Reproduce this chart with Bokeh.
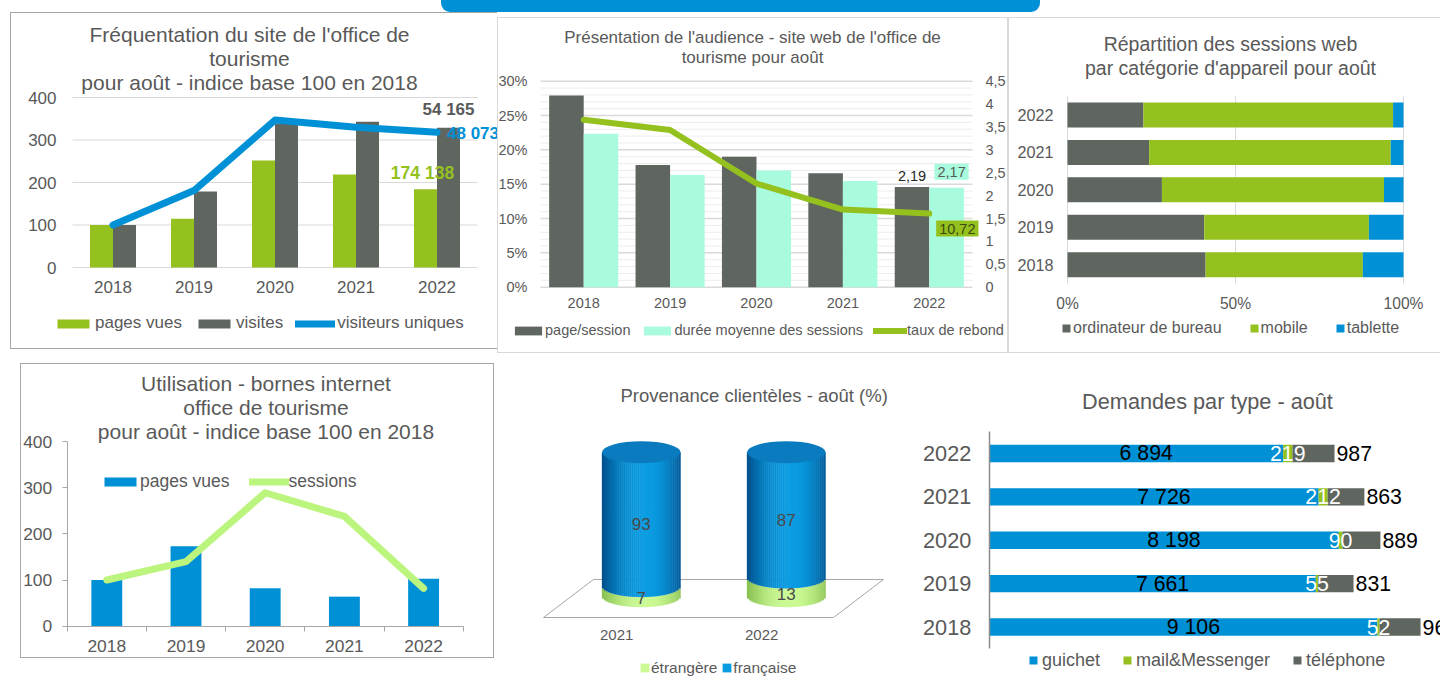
import math
from bokeh.plotting import figure
from bokeh.models import (Range1d, FixedTicker, LinearAxis, Label, Legend, LegendItem,
                          CustomJSTickFormatter, PrintfTickFormatter, ColumnDataSource, Div)
from bokeh.layouts import row, column
from bokeh.embed import file_html
from bokeh.resources import INLINE
from bokeh.core.properties import value

# ---------------- data ----------------
years = ["2018", "2019", "2020", "2021", "2022"]

# Fréquentation du site (indice base 100 en 2018)
site_pages_vues = [100, 115, 252, 219, 184]
site_visites = [100, 179, 339, 343, 329]
site_visiteurs_uniques = [100, 181, 347, 330, 318]
site_2022_pages_vues = 174138
site_2022_visites = 54165
site_2022_visiteurs_uniques = 48073

# Présentation de l'audience
aud_page_session = [4.19, 2.67, 2.85, 2.49, 2.19]
aud_duree_moyenne = [3.35, 2.45, 2.55, 2.32, 2.17]
aud_taux_rebond = [24.4, 22.9, 15.1, 11.3, 10.72]

# Répartition des sessions par appareil (%)
app_ordinateur = [41.1, 40.7, 28.1, 24.3, 22.6]
app_mobile = [46.8, 49.0, 66.1, 71.9, 74.3]
app_tablette = [12.1, 10.3, 5.8, 3.8, 3.1]

# Bornes internet (indice base 100 en 2018)
bornes_pages_vues = [100, 173, 82, 64, 103]
bornes_sessions = [100, 140, 289, 238, 82]

# Provenance clientèles (%)
prov_years = ["2021", "2022"]
prov_etrangere = [7, 13]
prov_francaise = [93, 87]

# Demandes par type
dem_guichet = [9106, 7661, 8198, 7726, 6894]
dem_mail = [52, 55, 90, 212, 219]
dem_telephone = [961, 831, 889, 863, 987]

# ---------------- style ----------------
FONT = "Liberation Sans"
TXT = "#595959"
GREEN = "#95C11F"
DGREY = "#5F6660"
BLUE = "#0090D5"
MINT = "#A8FCDD"
LGREEN = "#BCF57E"
GRID = "#D9D9D9"

POS = [i + 0.5 for i in range(5)]
YEAR_LABELS = dict(zip(POS, years))


def fmt_int(v):
    return f"{v:,}".replace(",", " ")


def fmt_dec(v):
    return f"{v:.2f}".replace(".", ",")


class Frame:
    """Maps a data area (l, r, t, b in canvas pixels) onto a frame covering the whole canvas."""

    def __init__(self, w, h, l, r, t, b, xr, yr):
        self.w, self.h = w, h
        self.xr, self.yr = xr, yr
        self.sx = (xr[1] - xr[0]) / (r - l)
        self.sy = (yr[1] - yr[0]) / (b - t)
        self.x0 = xr[0] - l * self.sx
        self.y0 = yr[0] - (h - b) * self.sy
        self.t, self.b = t, b

    def xrange(self):
        return Range1d(self.x0, self.x0 + self.w * self.sx)

    def yrange(self):
        return Range1d(self.y0, self.y0 + self.h * self.sy)

    def extra_yrange(self, lo, hi):
        s = (hi - lo) / (self.b - self.t)
        y0 = lo - (self.h - self.b) * s
        return Range1d(y0, y0 + self.h * s)

    def d(self, cx, cy):
        return self.x0 + cx * self.sx, self.y0 + (self.h - cy) * self.sy


def fig(fr, shadow=None, margin=None):
    p = figure(width=fr.w, height=fr.h, x_range=fr.xrange(), y_range=fr.yrange(),
               toolbar_location=None, output_backend="svg",
               min_border_left=0, min_border_right=0, min_border_top=0, min_border_bottom=0,
               frame_align=False, x_axis_location=None, y_axis_location=None,
               border_fill_alpha=0, background_fill_alpha=0, outline_line_color=None,
               styles={"box-shadow": shadow} if shadow else {}, margin=margin)
    p.grid.visible = False
    return p


def axis(p, side, fixed, ticks, size, standoff, labels=None, fmt=None, line=None,
         ticks_out=0, bounds=None, minor=None, line_width=1, y_range_name=None):
    kw = {}
    if y_range_name:
        kw["y_range_name"] = y_range_name
    ax = LinearAxis(fixed_location=fixed,
                    ticker=FixedTicker(ticks=ticks, minor_ticks=minor or []), **kw)
    if fmt is not None:
        ax.formatter = fmt
    if labels:
        ax.major_label_overrides = labels
    if bounds:
        ax.bounds = bounds
    ax.major_label_text_font = FONT
    ax.major_label_text_font_size = f"{size}px"
    ax.major_label_text_color = TXT
    ax.major_label_standoff = standoff
    ax.axis_line_color = line
    ax.axis_line_width = line_width
    ax.major_tick_out = ticks_out
    ax.major_tick_in = 0
    ax.major_tick_line_color = line if ticks_out else None
    if minor:
        ax.minor_tick_line_color = line
        ax.minor_tick_out = 5
        ax.minor_tick_in = 0
    else:
        ax.minor_tick_line_color = None
    p.add_layout(ax, side)
    return ax


def hgrid(p, ys, x0, x1, color, width=1):
    p.segment(x0=[x0] * len(ys), x1=[x1] * len(ys), y0=ys, y1=ys,
              line_color=color, line_width=width, level="underlay")


def vgrid(p, xs, y0, y1, color, width=1):
    p.segment(x0=xs, x1=xs, y0=[y0] * len(xs), y1=[y1] * len(xs),
              line_color=color, line_width=width, level="underlay")


def titles(p, fr, lines, cx, cys, size):
    for t, cy in zip(lines, cys):
        x, y = fr.d(cx, cy)
        p.add_layout(Label(x=x, y=y, text=t, text_align="center", text_baseline="middle",
                           text_font=FONT, text_font_size=f"{size}px", text_color=TXT))


def legend(p, fr, items, left, cy, size, gw, gh, standoff, spacing):
    h = max(18, 1.2 * size + 1)
    vy = fr.h - (cy + h / 2)
    p.add_layout(Legend(items=items, location=(left, vy), orientation="horizontal",
                        label_text_font=FONT, label_text_font_size=f"{size}px",
                        label_text_color=TXT, glyph_width=gw, glyph_height=gh,
                        label_standoff=standoff, spacing=spacing, padding=0, margin=0,
                        border_line_alpha=0, background_fill_alpha=0, label_height=18))


# ---------------- chart 1 ----------------
fr1 = Frame(487, 337, 62, 467, 85, 255, (0, 5), (0, 400))
f1 = fig(fr1, shadow="inset 1px 1px 0 0 #A6A6A6, inset 0 -1px 0 0 #A6A6A6",
         margin=(0, 0, 0, 10))
hgrid(f1, [0, 100, 200, 300, 400], 0, 5, GRID)
axis(f1, "left", 0, [0, 100, 200, 300, 400], 17, 16)
axis(f1, "below", 0, POS, 17, 13, labels=YEAR_LABELS)
bw1 = 0.284
r11 = f1.vbar(x=[x - bw1 / 2 for x in POS], top=site_pages_vues, width=bw1,
              fill_color=GREEN, line_color=None)
r12 = f1.vbar(x=[x + bw1 / 2 for x in POS], top=site_visites, width=bw1,
              fill_color=DGREY, line_color=None)
r13 = f1.line(POS, site_visiteurs_uniques, line_color=BLUE, line_width=7,
              line_cap="round", line_join="round")
f1.add_layout(Label(x=POS[4] + bw1 / 2, y=site_visites[4], y_offset=18,
                    text=fmt_int(site_2022_visites), text_align="center",
                    text_baseline="middle", text_font=FONT, text_font_size="17px",
                    text_font_style="bold", text_color=TXT))
f1.add_layout(Label(x=POS[4], y=site_visiteurs_uniques[4], x_offset=10, y_offset=-1,
                    text=fmt_int(site_2022_visiteurs_uniques), text_align="left",
                    text_baseline="middle", text_font=FONT, text_font_size="17px",
                    text_font_style="bold", text_color=BLUE))
f1.add_layout(Label(x=POS[4] - bw1 / 2, y=site_pages_vues[4], x_offset=-3, y_offset=16,
                    text=fmt_int(site_2022_pages_vues), text_align="center",
                    text_baseline="middle", text_font=FONT, text_font_size="17.5px",
                    text_font_style="bold", text_color=GREEN))
titles(f1, fr1, ["Fréquentation du site de l'office de", "tourisme",
                 "pour août - indice base 100 en 2018"], 239, [22, 46, 70], 21)
legend(f1, fr1, [LegendItem(label="pages vues", renderers=[r11]),
                 LegendItem(label="visites", renderers=[r12]),
                 LegendItem(label="visiteurs uniques", renderers=[r13])],
       43, 310.7, 17, 40, 11, 2, 12)

# ---------------- chart 2 ----------------
fr2 = Frame(511, 336, 43, 475, 63.7, 269.7, (0, 5), (0, 30))
f2 = fig(fr2, shadow="inset 0 0 0 1px #D9D9D9", margin=(5, 0, 0, 0))
f2.extra_y_ranges = {"r": fr2.extra_yrange(0, 4.5)}
hgrid(f2, [v for v in range(0, 31) if v % 5], 0, 5, "#EDEDED", 1)
hgrid(f2, list(range(0, 31, 5)), 0, 5, GRID, 1.5)
axis(f2, "left", 0, list(range(0, 31, 5)), 14.5, 13, fmt=PrintfTickFormatter(format="%d%%"))
axis(f2, "below", 0, POS, 14.5, 11, labels=YEAR_LABELS)
axis(f2, "right", 5, [i * 0.5 for i in range(10)], 14.5, 13, y_range_name="r",
     fmt=CustomJSTickFormatter(code="return tick.toString().replace('.', ',');"))
r21 = f2.vbar(x=[x - 0.2 for x in POS], top=aud_page_session, width=0.4,
              fill_color=DGREY, line_color=None, y_range_name="r")
r22 = f2.vbar(x=[x + 0.2 for x in POS], top=aud_duree_moyenne, width=0.4,
              fill_color=MINT, line_color=None, y_range_name="r")
r23 = f2.line(POS, aud_taux_rebond, line_color=GREEN, line_width=6,
              line_cap="round", line_join="round")
f2.add_layout(Label(x=POS[4] - 0.2, y=aud_page_session[4], y_range_name="r", y_offset=11,
                    text=fmt_dec(aud_page_session[4]), text_align="center",
                    text_baseline="middle", text_font=FONT, text_font_size="14.5px",
                    text_color="#262626"))
f2.add_layout(Label(x=POS[4] + 0.2, y=aud_duree_moyenne[4], y_range_name="r", x_offset=5,
                    y_offset=16, text=fmt_dec(aud_duree_moyenne[4]), text_align="center",
                    text_baseline="middle", text_font=FONT, text_font_size="14.5px",
                    text_color=TXT, background_fill_color=MINT, padding=3))
f2.add_layout(Label(x=POS[4], y=aud_taux_rebond[4], x_offset=28, y_offset=-15,
                    text=fmt_dec(aud_taux_rebond[4]), text_align="center",
                    text_baseline="middle", text_font=FONT, text_font_size="14.5px",
                    text_color="#3A4A10", background_fill_color=GREEN, padding=3))
titles(f2, fr2, ["Présentation de l'audience - site web de l'office de",
                 "tourisme pour août"], 255, [19.7, 40.3], 17)
legend(f2, fr2, [LegendItem(label="page/session", renderers=[r21]),
                 LegendItem(label="durée moyenne des sessions", renderers=[r22]),
                 LegendItem(label="taux de rebond", renderers=[r23])],
       14, 313, 14.5, 34, 11, 0, 10)

# ---------------- chart 3 ----------------
fr3 = Frame(432, 336, 59, 395, 78.7, 266, (0, 100), (0, 5))
f3 = fig(fr3, shadow="inset 1px 1px 0 0 #D9D9D9, inset 0 -1px 0 0 #D9D9D9",
         margin=(5, 0, 0, 0))
vgrid(f3, [0, 50, 100], 0, 5, GRID)
src3 = ColumnDataSource(dict(y=POS, ordinateur=app_ordinateur, mobile=app_mobile,
                             tablette=app_tablette))
rs3 = f3.hbar_stack(["ordinateur", "mobile", "tablette"], y="y", height=0.667,
                    fill_color=[DGREY, GREEN, BLUE], line_color=None, source=src3)
axis(f3, "below", 0, [0, 50, 100], 15.6, 11, fmt=PrintfTickFormatter(format="%d%%"))
axis(f3, "left", 0, POS, 16.2, 14, labels=YEAR_LABELS)
titles(f3, fr3, ["Répartition des sessions web", "par catégorie d'appareil pour août"],
       222, [26, 50], 19.5)
legend(f3, fr3, [LegendItem(label="ordinateur de bureau", renderers=[rs3[0]]),
                 LegendItem(label="mobile", renderers=[rs3[1]]),
                 LegendItem(label="tablette", renderers=[rs3[2]])],
       53, 310, 16, 10, 10, 2, 27)

# ---------------- chart 4 ----------------
fr4 = Frame(474, 295, 46.7, 442.7, 78, 262.7, (0, 5), (0, 400))
f4 = fig(fr4, shadow="inset 0 0 0 1px #A6A6A6", margin=(10, 0, 0, 20))
r41 = f4.vbar(POS, top=bornes_pages_vues, width=0.39, fill_color=BLUE, line_color=None)
r42 = f4.line(POS, bornes_sessions, line_color=LGREEN, line_width=7,
              line_cap="round", line_join="round")
axis(f4, "left", 0, [0, 100, 200, 300, 400], 17.4, 10, line="#A6A6A6", ticks_out=5,
     bounds=(0, 400))
axis(f4, "below", 0, POS, 17.4, 9, labels=YEAR_LABELS, line="#A6A6A6", bounds=(0, 5),
     minor=[0, 1, 2, 3, 4, 5])
titles(f4, fr4, ["Utilisation - bornes internet", "office de tourisme",
                 "pour août - indice base 100 en 2018"], 245.5, [19.7, 43.7, 67.7], 21)
legend(f4, fr4, [LegendItem(label="pages vues", renderers=[r41]),
                 LegendItem(label="sessions", renderers=[r42])],
       80, 118, 17.5, 40, 11, 0, 19)

# ---------------- chart 5 (cylinders) ----------------
fr5 = Frame(400, 308, 140.8, 285.8, 81.7, 225.7, (1, 2), (0, 100))
f5 = fig(fr5, margin=(17, 0, 0, 6))
PX_X, PX_Y = 145.0, 1.44
CW = 78.5 / PX_X
D = 11 / PX_Y
N = 40
CYL_X = [1, 2]
FLOOR_X = [0.326, 2.326, 2.670, 0.670]
FLOOR_Y = [-14.8, -14.8, 11.6, 11.6]


def mix(c1, c2, t):
    a = [int(c1[i:i + 2], 16) for i in (1, 3, 5)]
    b = [int(c2[i:i + 2], 16) for i in (1, 3, 5)]
    return "#%02x%02x%02x" % tuple(int(round(a[k] + (b[k] - a[k]) * t)) for k in range(3))


def shade_t(u):
    if u < 0.15:
        s = (0.15 - u) / 1.15
        return 1 - s * s
    s = (u - 0.15) / 0.85
    return 1 - 0.85 * s * s


f5.patch(FLOOR_X, FLOOR_Y, fill_color="white", line_color="#A6A6A6", line_width=1)
gs = dict(x=[], bottom=[], top=[], color=[])
bs = dict(x=[], bottom=[], top=[], color=[])
best_k, best_t = 0, -1
for xc, et, fr_ in zip(CYL_X, prov_etrangere, prov_francaise):
    for k in range(N):
        u = -1 + (2 * k + 1) / N
        dd = D * math.sqrt(max(0.0, 1 - u * u))
        xs = xc + u * CW / 2
        t = shade_t(u)
        if xc == CYL_X[0] and t > best_t:
            best_k, best_t = k, t
        gs["x"].append(xs); gs["bottom"].append(-dd); gs["top"].append(et - dd)
        gs["color"].append(mix("#86BE4E", "#CBFA94", t))
        bs["x"].append(xs); bs["bottom"].append(et - dd); bs["top"].append(et + fr_)
        bs["color"].append(mix("#004E8A", "#0A9CE2", t))
rg = f5.vbar(x="x", bottom="bottom", top="top", width=CW / N * 1.2, fill_color="color",
             line_color=None, source=ColumnDataSource(gs))
rb = f5.vbar(x="x", bottom="bottom", top="top", width=CW / N * 1.2, fill_color="color",
             line_color=None, source=ColumnDataSource(bs))
f5.ellipse(x=CYL_X, y=[e + f for e, f in zip(prov_etrangere, prov_francaise)], width=CW,
           height=2 * D, fill_color="#0B7BC0", line_color=None)
f5.text(x=CYL_X, y=[e / 2 for e in prov_etrangere], text=[str(e) for e in prov_etrangere],
        y_offset=7, text_align="center", text_baseline="middle", text_font=value(FONT),
        text_font_size="17px", text_color="#4A4A4A")
f5.text(x=CYL_X, y=[e + f / 2 for e, f in zip(prov_etrangere, prov_francaise)],
        text=[str(f) for f in prov_francaise], y_offset=5, text_align="center",
        text_baseline="middle", text_font=value(FONT), text_font_size="17px",
        text_color="#4A4A4A")
f5.text(x=[x - 0.17 for x in CYL_X], y=[-26.6, -26.6], text=prov_years,
        text_align="center", text_baseline="middle", text_font=value(FONT),
        text_font_size="15px", text_color=TXT)
titles(f5, fr5, ["Provenance clientèles - août (%)"], 253.7, [25], 18.5)
legend(f5, fr5, [LegendItem(label="étrangère", renderers=[rg], index=best_k),
                 LegendItem(label="française", renderers=[rb], index=best_k)],
       139, 297, 15.5, 11, 11, 1, 4)

# ---------------- chart 6 ----------------
fr6 = Frame(540, 308, 88.8, 540, 61.3, 278.2, (0, 10587), (0, 5))
f6 = fig(fr6, margin=(17, 0, 0, 0))
src6 = ColumnDataSource(dict(
    y=POS, guichet=dem_guichet, mail=dem_mail, telephone=dem_telephone,
    g_mid=[g / 2 for g in dem_guichet],
    m_mid=[g + m / 2 for g, m in zip(dem_guichet, dem_mail)],
    end=[g + m + t for g, m, t in zip(dem_guichet, dem_mail, dem_telephone)],
    g_lab=[fmt_int(g) for g in dem_guichet],
    m_lab=[str(m) for m in dem_mail],
    t_lab=[fmt_int(t) for t in dem_telephone]))
rs6 = f6.hbar_stack(["guichet", "mail", "telephone"], y="y", height=0.4,
                    fill_color=[BLUE, GREEN, DGREY], line_color=None, source=src6)
f6.text(x="g_mid", y="y", text="g_lab", source=src6, x_offset=10, text_align="center",
        text_baseline="middle", text_font=value(FONT), text_font_size="21.3px",
        text_color="black")
f6.text(x="m_mid", y="y", text="m_lab", source=src6, text_align="center",
        text_baseline="middle", text_font=value(FONT), text_font_size="21.3px",
        text_color="white")
f6.text(x="end", y="y", text="t_lab", source=src6, x_offset=2, text_align="left",
        text_baseline="middle", text_font=value(FONT), text_font_size="21.3px",
        text_color="black")
axis(f6, "left", 0, POS, 21.7, 18, labels=YEAR_LABELS, line="#8C8C8C", line_width=1.5,
     bounds=(0, 5))
titles(f6, fr6, ["Demandes par type - août"], 307, [31], 21.7)
legend(f6, fr6, [LegendItem(label="guichet", renderers=[rs6[0]]),
                 LegendItem(label="mail&Messenger", renderers=[rs6[1]]),
                 LegendItem(label="téléphone", renderers=[rs6[2]])],
       128, 289.3, 18, 10, 10, 4, 22)

# ---------------- layout ----------------
topbar = Div(text="", width=599, height=12, margin=(0, 0, 0, 441),
             styles={"background-color": BLUE, "border-radius": "0 0 9px 9px"})
root = column(topbar, row(f1, f2, f3), row(f4, f5, f6))

open("out.html", "w").write(file_html(root, INLINE))
